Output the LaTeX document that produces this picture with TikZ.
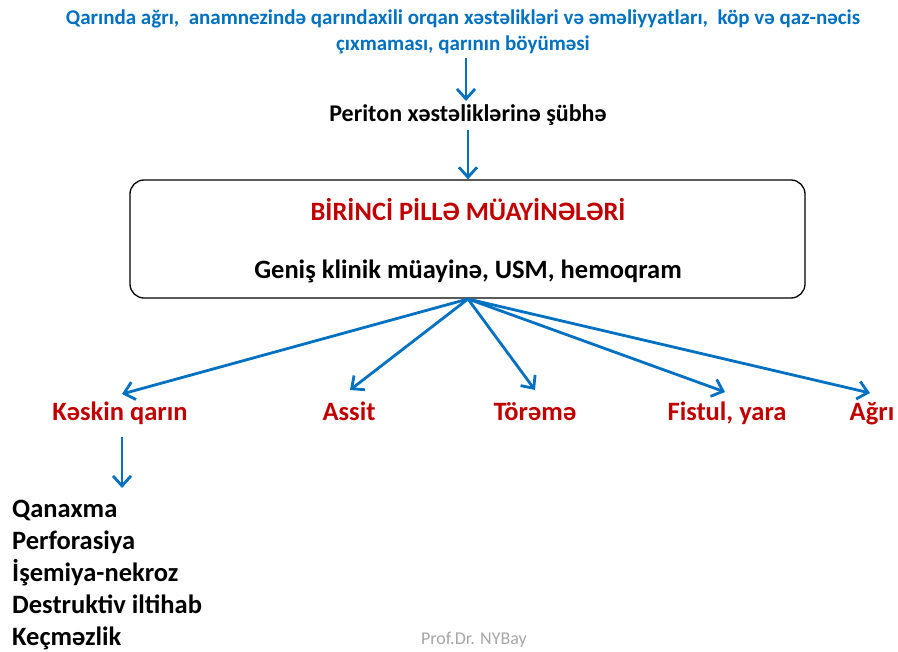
\documentclass[tikz,border=0pt]{standalone}
\usepackage{fontspec}
\setmainfont{Carlito}
\usetikzlibrary{arrows.meta}
\definecolor{obeyaz}{RGB}{0,112,192}
\definecolor{oqirmizi}{RGB}{192,0,0}
\tikzset{
  ox/.style={draw=obeyaz,line width=2.8pt,-{Straight Barb[length=10pt,width=18pt,line width=2.8pt]}},
  qutu/.style={draw,line width=1.3pt,rounded corners=14pt,minimum width=675pt,minimum height=118pt},
  qirmizi/.style={text=oqirmizi,font=\fontsize{26.5}{30}\selectfont\bfseries,anchor=base,inner sep=2pt},
  siyahi/.style={font=\fontsize{26.5}{30}\selectfont\bfseries,anchor=base west,inner sep=0pt}
}
\begin{document}
\begin{tikzpicture}[x=1pt,y=-1pt]
  \useasboundingbox (0,0) rectangle (898,652);
  % yuxari metn
  \node[text=obeyaz,font=\fontsize{21}{26}\selectfont\bfseries,align=center] (sikayet) at (463,32)
    {Qarında ağrı,\ \ anamnezində qarındaxili orqan xəstəlikləri və əməliyyatları,\ \ köp və qaz-nəcis\\çıxmaması, qarının böyüməsi};
  \node[font=\fontsize{24}{28}\selectfont\bfseries] (subhe) at (468,115) {Periton xəstəliklərinə şübhə};
  % birinci pille
  \node[qutu] (pille) at (467.5,239) {};
  \node[text=oqirmizi,font=\fontsize{26.5}{30}\selectfont\bfseries] (basliq) at (468,210) {BİRİNCİ PİLLƏ MÜAYİNƏLƏRİ};
  \node[font=\fontsize{26.5}{30}\selectfont\bfseries] (genis) at (468,271) {Geniş klinik müayinə, USM, hemoqram};
  % neticeler
  \node[qirmizi] (keskin) at (120,421) {Kəskin qarın};
  \node[qirmizi] (assit) at (349,421) {Assit};
  \node[qirmizi] (toreme) at (535,421) {Törəmə};
  \node[qirmizi] (fistul) at (727,421) {Fistul, yara};
  \node[qirmizi] (agri) at (872,421) {Ağrı};
  % kəskin qarın siyahısı
  \node[siyahi] (s1) at (12,518) {Qanaxma};
  \node[siyahi] (s2) at (12,549) {Perforasiya};
  \node[siyahi] (s3) at (12,581) {İşemiya-nekroz};
  \node[siyahi] (s4) at (12,613) {Destruktiv iltihab};
  \node[siyahi] (s5) at (12,645) {Keçməzlik};
  \node[text=gray!70,font=\fontsize{18}{21}\selectfont] (muellif) at (474,640) {Prof.Dr. NYBay};
  % oxlar
  \coordinate (u1) at (466,58);
  \coordinate (u2) at (468,130);
  \coordinate (alt) at (468,299);
  \coordinate (k1) at (122,437);
  \draw[ox] (u1) -- (u1 |- subhe.north);
  \draw[ox] (u2) -- (u2 |- pille.north);
  \draw[ox] (alt) -- (122,394);
  \draw[ox] (alt) -- (350,390);
  \draw[ox] (alt) -- (535,390);
  \draw[ox] (alt) -- (725,392);
  \draw[ox] (alt) -- (870,393);
  \draw[ox] (k1) -- (122,488);
\end{tikzpicture}
\end{document}
